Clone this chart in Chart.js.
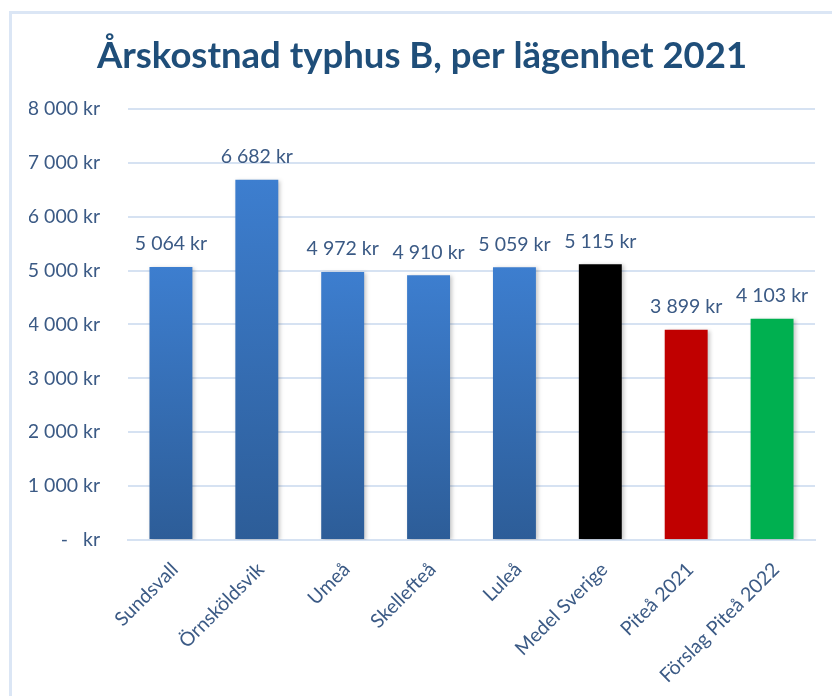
<!DOCTYPE html>
<html>
<head>
<meta charset="utf-8">
<script src="https://cdn.jsdelivr.net/npm/chart.js@4.4.0/dist/chart.umd.min.js"></script>
<style>
  html,body{margin:0;padding:0;background:#fff;overflow:hidden;}
  #wrap{position:relative;width:832px;height:696px;}
  #frame{position:absolute;left:9px;top:11px;width:900px;height:800px;border-left:3px solid #dbe6f5;border-top:3px solid #dbe6f5;}
  #c{position:absolute;left:0;top:0;}
</style>
</head>
<body>
<div id="wrap">
  <div id="frame"></div>
  <canvas id="c" width="832" height="696"></canvas>
</div>
<script>
// data
const labels = ['Sundsvall','Örnsköldsvik','Umeå','Skellefteå','Luleå','Medel Sverige','Piteå 2021','Förslag Piteå 2022'];
const kostnad = [5064, 6682, 4972, 4910, 5059, 5115, 3899, 4103];
const farger  = ['blue','blue','blue','blue','blue','#000000','#C00000','#00B050'];
const yTicks  = [0,1000,2000,3000,4000,5000,6000,7000,8000];

const TEXT = '#3B5A85';
const FONT = 'Lato, "Open Sans", sans-serif';

function fmtKr(v){
  if(v === 0) return '-   kr';
  return String(Math.round(v)).replace(/\B(?=(\d{3})+(?!\d))/g,' ') + ' kr';
}

// gradient per stapel, från toppen ner till basen
function barColor(ctx){
  const f = farger[ctx.dataIndex];
  if(f !== 'blue') return f;
  const chart = ctx.chart;
  const y = chart.scales.y;
  if(!y || !chart.chartArea) return '#3A78C6';
  const top = y.getPixelForValue(kostnad[ctx.dataIndex]);
  const bot = y.getPixelForValue(0);
  const g = chart.ctx.createLinearGradient(0, top, 0, bot);
  g.addColorStop(0, '#3D7ECF');
  g.addColorStop(1, '#2D5D98');
  return g;
}

const shadow = {
  id:'shadow',
  beforeDatasetsDraw(chart){
    const c = chart.ctx;
    c.save();
    c.shadowColor = 'rgba(0,0,0,0.22)';
    c.shadowBlur = 4;
    c.shadowOffsetX = 2;
    c.shadowOffsetY = 1;
  },
  afterDatasetsDraw(chart){ chart.ctx.restore(); }
};

const dataLabels = {
  id:'dataLabels',
  afterDatasetsDraw(chart){
    const c = chart.ctx;
    const meta = chart.getDatasetMeta(0);
    c.save();
    c.font = '19.5px ' + FONT;
    c.fillStyle = TEXT;
    c.textAlign = 'center';
    c.textBaseline = 'middle';
    meta.data.forEach((el,i)=>{
      c.fillText(fmtKr(kostnad[i]), el.x, el.y - 23);
    });
    c.restore();
  }
};

new Chart(document.getElementById('c'), {
  type:'bar',
  data:{
    labels: labels,
    datasets:[{ data:kostnad, backgroundColor:barColor, categoryPercentage:1, barPercentage:0.5 }]
  },
  options:{
    responsive:false, animation:false,
    layout:{ padding:{ left:29, right:17, top:0, bottom:0 } },
    plugins:{
      legend:{ display:false },
      tooltip:{ enabled:false },
      title:{
        display:true,
        text:'Årskostnad typhus B, per lägenhet 2021',
        color:'#1F4E79',
        font:{ family:FONT, size:36.5, weight:'bold' },
        padding:{ top:34, bottom:31 }
      }
    },
    scales:{
      x:{
        grid:{ display:false },
        border:{ display:true, color:'#D6E2F2', width:2 },
        ticks:{ color:TEXT, font:{ family:FONT, size:19.5 }, minRotation:45, maxRotation:45, padding:10, labelOffset:4 },
        afterFit(s){ s.height = 156; }
      },
      y:{
        min:0, max:8000,
        afterBuildTicks(s){ s.ticks = yTicks.map(v=>({value:v})); },
        grid:{ color:'#D6E2F2', lineWidth:2, drawTicks:false },
        border:{ display:false },
        ticks:{ color:TEXT, font:{ family:FONT, size:19.5 }, padding:28, callback:v=>fmtKr(v) },
        afterFit(s){ s.width = 99; }
      }
    }
  },
  plugins:[shadow, dataLabels]
});
</script>
</body>
</html>
